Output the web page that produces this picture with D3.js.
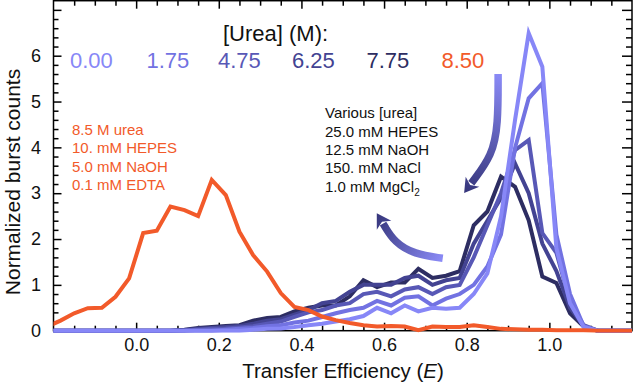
<!DOCTYPE html>
<html>
<head>
<meta charset="utf-8">
<script src="https://cdn.jsdelivr.net/npm/d3@7"></script>
<style>
  body { margin: 0; background: #fff; }
  svg { display: block; font-family: "Liberation Sans", Arial, Helvetica, sans-serif; }
</style>
</head>
<body>
<div id="chart"></div>
<script>
// bin centres of the FRET efficiency histogram
const effBins = [-0.217, -0.183, -0.150, -0.117, -0.083, -0.050, -0.017, 0.017, 0.050, 0.083,
                 0.117, 0.150, 0.183, 0.217, 0.250, 0.283, 0.317, 0.350, 0.383, 0.417,
                 0.450, 0.483, 0.517, 0.550, 0.583, 0.617, 0.650, 0.683, 0.717, 0.750,
                 0.783, 0.817, 0.850, 0.883, 0.917, 0.950, 0.983, 1.017, 1.050, 1.083,
                 1.117, 1.150, 1.183, 1.217];

const urea000 = [0, 0, 0, 0, 0, 0, 0, 0, 0, 0,
                 0, 0, 0, 0, 0, 0.02, 0.04, 0.05, 0.08, 0.12,
                 0.15, 0.20, 0.25, 0.32, 0.50, 0.38, 0.55, 0.42, 0.50, 0.48,
                 0.50, 0.80, 1.25, 2.49, 4.60, 6.49, 5.76, 1.80, 0.60, 0.08,
                 0, 0, 0, 0];
const urea175 = [0, 0, 0, 0, 0, 0, 0, 0, 0, 0,
                 0, 0, 0, 0.02, 0.04, 0.06, 0.10, 0.12, 0.18, 0.22,
                 0.30, 0.38, 0.45, 0.50, 0.65, 0.55, 0.72, 0.75, 0.55, 0.70,
                 0.80, 1.00, 1.40, 2.10, 3.99, 5.07, 5.40, 2.10, 0.80, 0.10,
                 0, 0, 0, 0];
const urea475 = [0, 0, 0, 0, 0, 0, 0, 0, 0, 0,
                 0, 0.02, 0.04, 0.05, 0.07, 0.10, 0.15, 0.20, 0.30, 0.40,
                 0.45, 0.55, 0.60, 0.80, 0.85, 0.75, 0.90, 0.95, 0.80, 0.95,
                 1.00, 1.60, 2.30, 3.00, 3.94, 4.16, 2.13, 1.70, 0.63, 0.12,
                 0, 0, 0, 0];
const urea625 = [0, 0, 0, 0, 0, 0, 0, 0, 0, 0,
                 0.01, 0.04, 0.06, 0.08, 0.10, 0.15, 0.22, 0.25, 0.35, 0.45,
                 0.60, 0.65, 0.85, 1.00, 1.00, 1.00, 1.15, 1.20, 1.00, 1.10,
                 1.15, 1.90, 2.40, 2.90, 3.65, 3.00, 1.90, 1.30, 0.50, 0.10,
                 0, 0, 0, 0];
const urea775 = [0, 0, 0, 0, 0, 0, 0, 0, 0, 0,
                 0.02, 0.06, 0.08, 0.10, 0.12, 0.22, 0.28, 0.30, 0.42, 0.50,
                 0.55, 0.55, 0.75, 1.10, 0.95, 1.05, 1.05, 1.35, 1.15, 1.20,
                 1.30, 2.30, 2.60, 3.36, 3.14, 2.41, 1.18, 1.04, 0.38, 0.09,
                 0, 0, 0, 0];
const urea850 = [0.08, 0.22, 0.38, 0.49, 0.50, 0.74, 1.14, 2.13, 2.18, 2.71,
                 2.63, 2.50, 3.29, 2.96, 2.16, 1.65, 1.29, 0.82, 0.52, 0.45,
                 0.31, 0.23, 0.17, 0.12, 0.09, 0.10, 0.09, 0.01, 0.09, 0.08,
                 0.08, 0.12, 0.08, 0.04, 0.03, 0.02, 0.02, 0.01, 0.01, 0.01,
                 0, 0, 0, 0];

const ureaLabels = ["0.00", "1.75", "4.75", "6.25", "7.75", "8.50"];
const ureaColors = ["#8787f7", "#7272e2", "#5858b6", "#434392", "#2d2d62", "#f25a2a"];

const xMajor = [-0.2, 0, 0.2, 0.4, 0.6, 0.8, 1.0, 1.2];
const yMajor = [0, 1, 2, 3, 4, 5, 6, 7];

const leftNotes = ["8.5 M urea", "10. mM HEPES", "5.0 mM NaOH", "0.1 mM EDTA"];
const rightNotes = ["Various [urea]", "25.0 mM HEPES", "12.5 mM NaOH", "150. mM NaCl", "1.0 mM MgCl"];

// curved arrows, in data units (E, counts)
const arrowDown = [[0.876, 5.60], [0.876, 4.49], [0.862, 3.83], [0.814, 3.25]];
const arrowUp = [[0.742, 1.58], [0.673, 1.67], [0.625, 1.93], [0.600, 2.30]];

const width = 633, height = 384;
const x = d3.scaleLinear().domain([-0.2, 1.2]).range([53.5, 632]);
const y = d3.scaleLinear().domain([0, 7.2]).range([330.7, 0.7]);

const svg = d3.select("#chart").append("svg")
    .attr("width", width)
    .attr("height", height);

const defs = svg.append("defs");
defs.append("clipPath").attr("id", "plotclip")
  .append("rect")
    .attr("x", x(-0.2)).attr("y", -10)
    .attr("width", x(1.2) - x(-0.2)).attr("height", y(0) + 12);

// ---- axes (ticks point inward on all four sides)
const xMinor = d3.range(-0.15, 1.2, 0.05).filter(v => Math.abs(v * 5 - Math.round(v * 5)) > 1e-6);
const yMinor = d3.range(0.2, 7.2, 0.2).filter(v => Math.abs(v - Math.round(v)) > 1e-6);

function styleAxis(g) {
  g.select(".domain").remove();
  g.selectAll("line").attr("stroke", "#000").attr("stroke-width", 1.5);
  g.selectAll("text").attr("fill", "#111").style("font-size", "18px")
    .style("font-family", "'Liberation Sans', Arial, sans-serif");
}

svg.append("g")
    .attr("transform", "translate(0," + y(0) + ")")
    .call(d3.axisBottom(x).tickValues(xMajor.slice(1, -1)).tickSizeInner(-8).tickSizeOuter(0)
      .tickPadding(8).tickFormat(d3.format(".1f")))
    .call(styleAxis);
svg.append("g")
    .attr("transform", "translate(0," + y(0) + ")")
    .call(d3.axisBottom(x).tickValues(xMinor).tickSizeInner(-5).tickSizeOuter(0).tickFormat(""))
    .call(styleAxis);
svg.append("g")
    .attr("transform", "translate(0," + y(7.2) + ")")
    .call(d3.axisTop(x).tickValues(xMajor.slice(1, -1)).tickSizeInner(-8).tickSizeOuter(0).tickFormat(""))
    .call(styleAxis);
svg.append("g")
    .attr("transform", "translate(0," + y(7.2) + ")")
    .call(d3.axisTop(x).tickValues(xMinor).tickSizeInner(-5).tickSizeOuter(0).tickFormat(""))
    .call(styleAxis);

svg.append("g")
    .attr("transform", "translate(" + x(-0.2) + ",0)")
    .call(d3.axisLeft(y).tickValues(yMajor).tickSizeInner(-8).tickSizeOuter(0).tickPadding(12.5)
      .tickFormat(d => d <= 6 ? d : ""))
    .call(styleAxis);
svg.append("g")
    .attr("transform", "translate(" + x(-0.2) + ",0)")
    .call(d3.axisLeft(y).tickValues(yMinor).tickSizeInner(-5).tickSizeOuter(0).tickFormat(""))
    .call(styleAxis);
svg.append("g")
    .attr("transform", "translate(" + x(1.2) + ",0)")
    .call(d3.axisRight(y).tickValues(yMajor).tickSizeInner(-10).tickSizeOuter(0).tickFormat(""))
    .call(styleAxis);
svg.append("g")
    .attr("transform", "translate(" + x(1.2) + ",0)")
    .call(d3.axisRight(y).tickValues(yMinor).tickSizeInner(-6).tickSizeOuter(0).tickFormat(""))
    .call(styleAxis);

svg.append("rect")
    .attr("x", x(-0.2)).attr("y", y(7.2))
    .attr("width", x(1.2) - x(-0.2)).attr("height", y(0) - y(7.2))
    .attr("fill", "none").attr("stroke", "#000").attr("stroke-width", 1.5);

// ---- histogram curves
const line = d3.line()
    .x((d, i) => x(effBins[i]))
    .y(d => y(d));

const allSeries = [urea775, urea625, urea475, urea175, urea000, urea850];
const seriesColor = [ureaColors[4], ureaColors[3], ureaColors[2], ureaColors[1], ureaColors[0], ureaColors[5]];

svg.append("g")
    .attr("clip-path", "url(#plotclip)")
  .selectAll("path")
  .data(allSeries)
  .enter().append("path")
    .attr("d", line)
    .attr("fill", "none")
    .attr("stroke", (d, i) => seriesColor[i])
    .attr("stroke-width", 4)
    .attr("stroke-linejoin", "miter");

// ---- legend
svg.append("text")
    .attr("x", 223).attr("y", 41)
    .style("font-size", "22px").attr("fill", "#111")
    .text("[Urea] (M):");

const legendX = [70, 146.5, 218, 292, 366.5, 441.5];
svg.selectAll(".lab")
  .data(ureaLabels)
  .enter().append("text")
    .attr("class", "lab")
    .attr("x", (d, i) => legendX[i]).attr("y", 68)
    .style("font-size", "22px")
    .attr("fill", (d, i) => ureaColors[i])
    .text(d => d);

// ---- buffer notes
svg.selectAll(".lnote")
  .data(leftNotes)
  .enter().append("text")
    .attr("class", "lnote")
    .attr("x", 72).attr("y", (d, i) => 135 + i * 18.3)
    .style("font-size", "15px")
    .attr("fill", ureaColors[5])
    .text(d => d);

const rn = svg.selectAll(".rnote")
  .data(rightNotes)
  .enter().append("text")
    .attr("class", "rnote")
    .attr("x", 325).attr("y", (d, i) => 118.3 + i * 18.35)
    .style("font-size", "15px")
    .attr("fill", "#111")
    .text(d => d);
rn.filter((d, i) => i === rightNotes.length - 1)
  .append("tspan").attr("dy", 4).style("font-size", "10px").text("2");

// ---- curved arrows with gradient
function drawArrow(pts, id, c0, c1) {
  const p = pts.map(d => [x(d[0]), y(d[1])]);
  const a = p[p.length - 2], b = p[p.length - 1];
  const len = Math.hypot(b[0] - a[0], b[1] - a[1]);
  const ux = (b[0] - a[0]) / len, uy = (b[1] - a[1]) / len;
  const hl = 14, hw = 8.5;
  const tip = [b[0] + ux * hl, b[1] + uy * hl];

  const grad = defs.append("linearGradient").attr("id", id)
      .attr("gradientUnits", "userSpaceOnUse")
      .attr("x1", p[0][0]).attr("y1", p[0][1]).attr("x2", tip[0]).attr("y2", tip[1]);
  grad.append("stop").attr("offset", 0).attr("stop-color", c0);
  grad.append("stop").attr("offset", 1).attr("stop-color", c1);

  svg.append("path")
      .attr("d", d3.line().curve(d3.curveBasis)(p.concat([[b[0] + ux * 2, b[1] + uy * 2]])))
      .attr("fill", "none")
      .attr("stroke", "url(#" + id + ")")
      .attr("stroke-width", 7.5);
  svg.append("path")
      .attr("d", "M" + (b[0] - uy * hw) + "," + (b[1] + ux * hw) +
                 "L" + tip[0] + "," + tip[1] +
                 "L" + (b[0] + uy * hw) + "," + (b[1] - ux * hw) +
                 "L" + (b[0] + ux * 4) + "," + (b[1] + uy * 4) + "Z")
      .attr("fill", "url(#" + id + ")");
}
drawArrow(arrowDown, "gradDown", "#8a8af6", "#35357a");
drawArrow(arrowUp, "gradUp", "#8a8af6", "#35357a");

// ---- axis titles
svg.append("text")
    .attr("transform", "translate(20," + 182 + ") rotate(-90)")
    .attr("text-anchor", "middle")
    .style("font-size", "21px").attr("fill", "#111")
    .text("Normalized burst counts");

const xt = svg.append("text")
    .attr("x", 343).attr("y", 378)
    .attr("text-anchor", "middle")
    .style("font-size", "20.5px").attr("fill", "#111");
xt.append("tspan").text("Transfer Efficiency (");
xt.append("tspan").style("font-style", "italic").text("E");
xt.append("tspan").text(")");
</script>
</body>
</html>
